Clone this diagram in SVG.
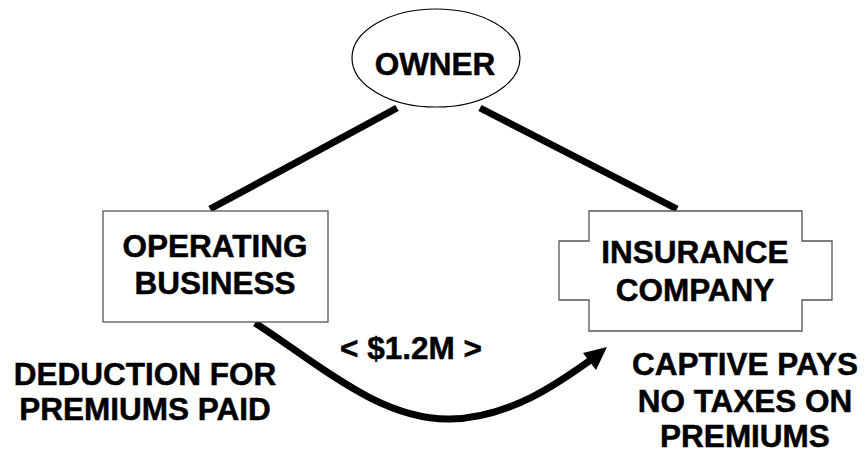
<svg xmlns="http://www.w3.org/2000/svg" width="866" height="454" viewBox="0 0 866 454">
  <style>
    .lbl { font-family: "Liberation Sans", Arial, sans-serif; font-weight: bold; font-size: 31.5px; fill: #000; stroke: #000; stroke-width: 0.5; text-anchor: middle; }
    .box { fill: #fff; stroke: #555; stroke-width: 1.3; }
    .link { stroke: #000; stroke-width: 7; fill: none; }
  </style>
  <rect width="866" height="454" fill="#fff"/>

  <!-- ownership links and premium flow -->
  <g id="connectors">
    <line class="link" x1="397" y1="108" x2="210" y2="209"/>
    <line class="link" x1="480" y1="108" x2="677" y2="209"/>
    <path class="link" d="M255,323 C320,365 380,420 450,419 C510,418 560,382 592,359"/>
    <polygon points="607,347 583,353 596,370" fill="#000"/>
    <text class="lbl" x="411" y="359">&lt; $1.2M &gt;</text>
  </g>

  <g id="owner">
    <ellipse cx="436" cy="58" rx="84" ry="49" fill="#fff" stroke="#000" stroke-width="1.2"/>
    <text class="lbl" x="435" y="75">OWNER</text>
  </g>

  <g id="operating-business">
    <rect class="box" x="103" y="211" width="225" height="111"/>
    <text class="lbl" x="215" y="257">OPERATING</text>
    <text class="lbl" x="215" y="294">BUSINESS</text>
  </g>

  <g id="insurance-company">
    <path class="box" d="M589,211 H802 V241 H832 V300 H802 V331 H589 V300 H559 V241 H589 Z"/>
    <text class="lbl" x="695" y="263">INSURANCE</text>
    <text class="lbl" x="695" y="301">COMPANY</text>
  </g>

  <g id="deduction-note">
    <text class="lbl" x="145" y="385">DEDUCTION FOR</text>
    <text class="lbl" x="145" y="420">PREMIUMS PAID</text>
  </g>

  <g id="captive-note">
    <text class="lbl" x="745" y="375">CAPTIVE PAYS</text>
    <text class="lbl" x="745" y="412">NO TAXES ON</text>
    <text class="lbl" x="745" y="447">PREMIUMS</text>
  </g>
</svg>
